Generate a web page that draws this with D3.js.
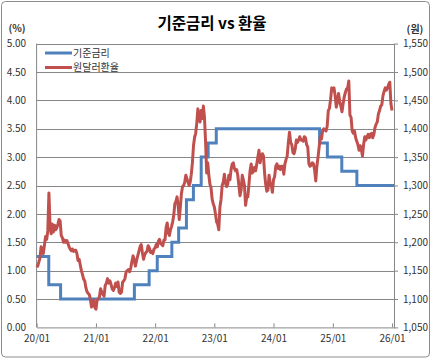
<!DOCTYPE html>
<html><head><meta charset="utf-8">
<script src="https://cdn.jsdelivr.net/npm/d3@7"></script>
<style>
html,body{margin:0;padding:0;background:#fff;}
svg{display:block;}
text{font-family:"Noto Sans CJK KR","Noto Sans",sans-serif;}
</style></head>
<body>
<div id="chart"></div>
<script>
// ---- data ----
const title = "기준금리 vs 환율";
const seriesNames = ["기준금리", "원달러환율"];
const xTickLabels = ["20/01","21/01","22/01","23/01","24/01","25/01","26/01"];
const leftTicks = [0,0.5,1,1.5,2,2.5,3,3.5,4,4.5,5];
const rightTicks = [1050,1100,1150,1200,1250,1300,1350,1400,1450,1500,1550];

// Korea base rate: change dates and new levels
const rateDates = ["2020-01-01","2020-03-16","2020-05-28","2021-08-26","2021-11-25","2022-01-14","2022-04-14","2022-05-26","2022-07-13","2022-08-25","2022-10-12","2022-11-24","2023-01-13","2024-10-11","2024-11-28","2025-02-25","2025-05-29"];
const rateValues = [1.25,0.75,0.50,0.75,1.00,1.25,1.50,1.75,2.25,2.50,3.00,3.25,3.50,3.25,3.00,2.75,2.50];

// USD/KRW, roughly weekly readings, spread evenly within each year
const fx2020 = [1160,1158,1165,1172,1192, 1188,1180,1195,1210, 1205,1220,1287,1230,1215, 1232,1218,1230,1222, 1225,1232,1240,1238, 1212,1208,1200,1204, 1200,1203,1198,1192,1188, 1185,1188,1184,1186, 1186,1180,1168,1170, 1160,1150,1143,1135,1132, 1120,1113,1110,1108, 1100,1086,1092,1098,1085];
const fx2021 = [1082,1098,1100,1104,1118, 1112,1108,1105,1124, 1128,1136,1128,1132, 1126,1118,1115,1120, 1128,1122,1130,1112, 1110,1112,1130,1132, 1136,1148,1150,1152,1148, 1155,1166,1176,1168, 1158,1168,1176,1184, 1192,1196,1182,1170, 1178,1182,1184,1194,1190, 1182,1184,1180,1188];
const fx2022 = [1190,1196,1192,1202,1205, 1198,1196,1194,1204, 1204,1226,1234,1216,1212, 1222,1228,1236,1248, 1268,1272,1280,1264, 1240,1262,1286,1298, 1300,1306,1318,1312,1306, 1300,1306,1320,1340, 1370,1385,1392,1410,1435, 1422,1412,1432,1418,1440, 1420,1378,1322,1340, 1318,1302,1296,1276,1268];
const fx2023 = [1262,1250,1236,1232, 1222,1262,1275,1300, 1306,1320,1304,1298,1302, 1318,1310,1328,1338, 1340,1330,1326,1328, 1318,1300,1282,1292,1318, 1310,1300,1265,1280, 1280,1302,1326,1338,1322, 1325,1332,1326,1338,1350, 1362,1340,1352,1356, 1352,1322,1302,1290, 1292,1318,1305,1300,1288];
const fx2024 = [1310,1316,1334,1338, 1330,1334,1328,1334, 1334,1320,1338,1346, 1352,1376,1394,1376, 1372,1358,1356,1364,1380, 1376,1380,1386,1380, 1380,1378,1386,1384, 1372,1368,1338,1334,1336, 1340,1338,1328,1308, 1334,1350,1368,1386,1382, 1396,1400,1398,1396, 1404,1432,1436,1452,1472];
const fx2025 = [1468,1472,1458,1438,1448, 1462,1448,1440,1430, 1444,1456,1464,1470, 1472,1484,1424,1420, 1396,1392,1396,1384,1378, 1372,1362,1370,1364, 1352,1372,1386,1380, 1386,1390,1384,1390, 1392,1384,1390,1402, 1408,1412,1426,1432,1440, 1442,1458,1466,1472, 1468,1472,1478,1482,1444];
const fx2026 = [1432];
const fxYears = [[2020,fx2020],[2021,fx2021],[2022,fx2022],[2023,fx2023],[2024,fx2024],[2025,fx2025],[2026,fx2026]];

(function(){
const W = 432, H = 360;
const svg = d3.select("#chart").append("svg").attr("width", W).attr("height", H);
svg.append("rect").attr("x",0).attr("y",0).attr("width",W).attr("height",H).attr("fill","#fff");
svg.append("rect").attr("x",1.5).attr("y",1.5).attr("width",428).attr("height",355.5).attr("rx",4)
  .attr("fill","none").attr("stroke","#8c8c8c").attr("stroke-width",1);

const pL = 36.6, pR = 394, pT = 43.6, pB = 327.4;
const x = d3.scaleTime().domain([new Date(2020,0,1), new Date(2026,0,13)]).range([pL, pR]);
const yL = d3.scaleLinear().domain([0,5]).range([pB, pT]);
const yR = d3.scaleLinear().domain([1050,1550]).range([pB, pT]);
const gridColor = "#878787";
const textColor = "#333";

// gridlines
svg.append("g").selectAll("line").data(leftTicks.filter(d=>d>0)).join("line")
  .attr("x1", pL).attr("x2", pR)
  .attr("y1", d=>Math.round(yL(d))+0.5).attr("y2", d=>Math.round(yL(d))+0.5)
  .attr("stroke", gridColor).attr("stroke-width",1);

// left axis
const gL = svg.append("g").attr("transform",`translate(${pL},0)`)
  .call(d3.axisLeft(yL).tickValues(leftTicks).tickFormat(d3.format(".2f")).tickSize(0).tickPadding(10.5));
gL.select(".domain").remove();
gL.selectAll("text").attr("font-size",10).attr("fill",textColor);
svg.append("line").attr("x1",pL).attr("x2",pL).attr("y1",pT).attr("y2",pB).attr("stroke",gridColor);

// right axis
const gR = svg.append("g").attr("transform",`translate(${pR},0)`)
  .call(d3.axisRight(yR).tickValues(rightTicks).tickFormat(d3.format(",")).tickSize(4).tickSizeOuter(0).tickPadding(5));
gR.selectAll("path,line").attr("stroke",gridColor);
gR.selectAll("text").attr("font-size",10).attr("fill",textColor);

// x axis
const xTickDates = xTickLabels.map((s,i)=>new Date(2020+i,0,1));
const gX = svg.append("g").attr("transform",`translate(0,${pB})`)
  .call(d3.axisBottom(x).tickValues(xTickDates).tickFormat((d,i)=>xTickLabels[i]).tickSize(-4).tickSizeOuter(0).tickPadding(8));
gX.selectAll("path,line").attr("stroke",gridColor);
gX.selectAll("text").attr("font-size",10).attr("fill",textColor);

// rate step line
const rateData = rateDates.map((d,i)=>({date:new Date(d+"T00:00:00"), v:rateValues[i]}));
rateData.push({date:x.domain()[1], v:rateValues[rateValues.length-1]});
svg.append("path").datum(rateData)
  .attr("fill","none").attr("stroke","#4F81BD").attr("stroke-width",3)
  .attr("d", d3.line().x(d=>x(d.date)).y(d=>yL(d.v)).curve(d3.curveStepAfter));

// fx line
const fxData = [];
fxYears.forEach(([yr,arr])=>{
  const s = new Date(yr,0,1).getTime(), e = new Date(yr+1,0,1).getTime();
  arr.forEach((v,i)=>fxData.push({date:new Date(s + (e-s)*i/arr.length), v}));
});
svg.append("path").datum(fxData)
  .attr("fill","none").attr("stroke","#C0504D").attr("stroke-width",3).attr("stroke-linejoin","round")
  .attr("d", d3.line().x(d=>x(d.date)).y(d=>yR(d.v)));

// title & unit labels
svg.append("text").attr("x",212).attr("y",28.5).attr("text-anchor","middle")
  .attr("font-size",15.5).attr("font-weight","bold").attr("fill","#000").text(title);
svg.append("text").attr("x",17).attr("y",32).attr("text-anchor","middle")
  .attr("font-size",10).attr("font-weight","bold").attr("fill",textColor).text("(%)");
svg.append("text").attr("x",415).attr("y",32.5).attr("text-anchor","middle")
  .attr("font-size",10).attr("font-weight","bold").attr("fill",textColor).text("(원)");

// legend
const legColors = ["#4F81BD","#C0504D"];
const leg = svg.append("g");
seriesNames.forEach((n,i)=>{
  const yy = 53 + i*14.5;
  leg.append("line").attr("x1",45).attr("x2",72).attr("y1",yy).attr("y2",yy)
    .attr("stroke",legColors[i]).attr("stroke-width",3);
  leg.append("text").attr("x",73).attr("y",yy+3.6).attr("font-size",10).attr("fill",textColor).text(n);
});
})();
</script>
</body></html>
